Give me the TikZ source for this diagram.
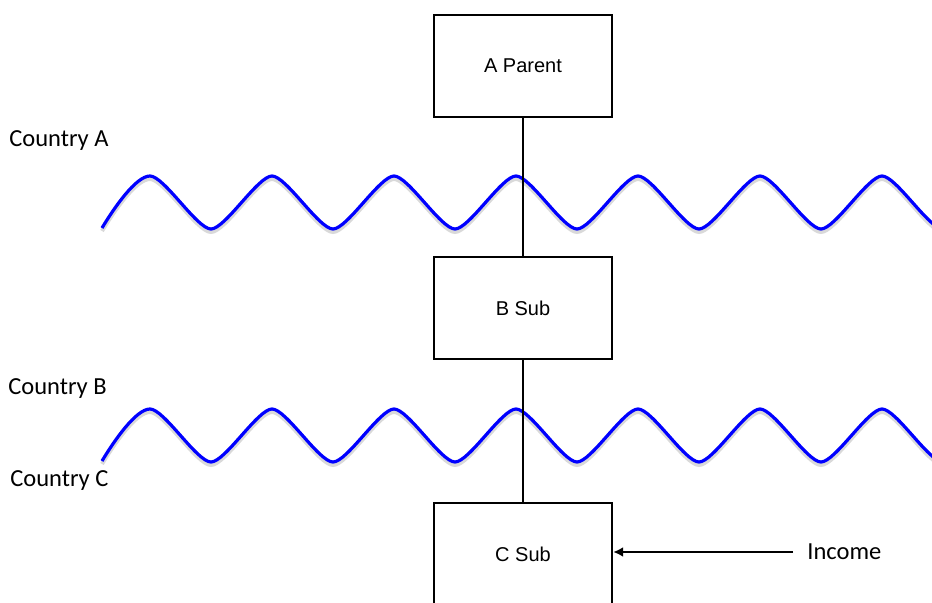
\documentclass[tikz,border=0pt]{standalone}
\usepackage{fontspec}
\setmainfont{Carlito}
\newfontfamily\arialfont{Liberation Sans}
\usetikzlibrary{arrows.meta}

\begin{document}
\begin{tikzpicture}[x=0.5pt, y=-0.5pt,
    entity/.style={draw, line width=1.2pt, minimum width=89pt, minimum height=51pt,
        inner sep=0pt, font=\arialfont\fontsize{10}{12}\selectfont},
    country/.style={anchor=west, inner sep=0pt, font=\fontsize{12.25}{14}\selectfont},
    border/.style={draw=blue, line width=1.6pt,
        preaction={draw=black!15, line width=2pt, transform canvas={yshift=-1.5pt}}},
    link/.style={draw, line width=1.3pt}]
    \path[use as bounding box, clip] (0,0) rectangle (932,603);
    % borders between the countries
    \draw[border] (102,228) .. controls +(12,-20) and +(-14,0) .. (150,176)
        foreach \k in {1,...,6} { .. controls +(14,0) and +(-14,0) .. ++(61,53) .. controls +(14,0) and +(-14,0) .. ++(61,-53) }
        .. controls +(14,0) and +(-14,0) .. ++(61,53);
    \draw[border] (102,461) .. controls +(12,-20) and +(-14,0) .. (150,409)
        foreach \k in {1,...,6} { .. controls +(14,0) and +(-14,0) .. ++(61,53) .. controls +(14,0) and +(-14,0) .. ++(61,-53) }
        .. controls +(14,0) and +(-14,0) .. ++(61,53);
    \node[country] (ctryA) at (9,141) {Country A};
    \node[country] (ctryB) at (8,389) {Country B};
    \node[country] (ctryC) at (10,481) {Country C};
    % entities
    \node[entity] (parent) at (523,66) {A Parent};
    \node[entity] (subB) at (523,308) {B Sub};
    \node[entity] (subC) at (523,554) {C Sub};
    \draw[link] (parent) -- (subB);
    \draw[link] (subB) -- (subC);
    \node[country] (income) at (807,552) {Income};
    \coordinate (src) at (793,552);
    \draw[link, -{Latex[length=5pt, width=5pt]}] (src) -- (src -| subC.east);
\end{tikzpicture}
\end{document}
